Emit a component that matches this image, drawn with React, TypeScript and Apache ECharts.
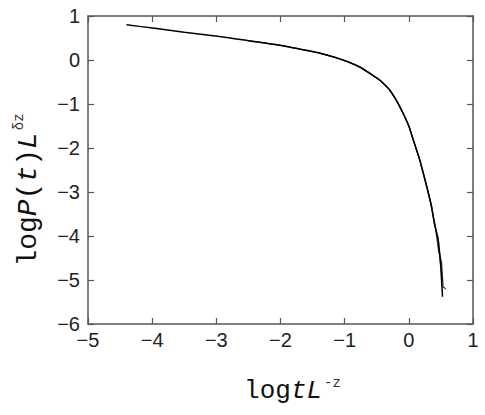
import React, { useEffect, useRef } from "react";
import * as echarts from "echarts";

// Curve data: [log t L^-z, log P(t) L^δz]
const curveA: [number, number][] = [
  [-4.4, 0.8], [-3.96, 0.72], [-3.5, 0.63], [-2.92, 0.53], [-2.5, 0.44],
  [-1.99, 0.33], [-1.6, 0.22], [-1.37, 0.15], [-1.15, 0.06], [-0.95, -0.04],
  [-0.75, -0.17], [-0.59, -0.32], [-0.45, -0.46], [-0.31, -0.66], [-0.2, -0.9],
  [-0.09, -1.21], [0.0, -1.5], [0.07, -1.82], [0.17, -2.27], [0.28, -2.88],
  [0.35, -3.3], [0.39, -3.64], [0.456, -4.09], [0.494, -4.61], [0.51, -5.0],
  [0.525, -5.38],
];
const curveB: [number, number][] = [
  [-2.5, 0.44], [-1.99, 0.33], [-1.6, 0.22], [-1.37, 0.15], [-1.15, 0.06],
  [-0.95, -0.04], [-0.75, -0.17], [-0.59, -0.32], [-0.45, -0.46], [-0.31, -0.66],
  [-0.2, -0.9], [-0.09, -1.21], [0.0, -1.5], [0.07, -1.82], [0.17, -2.27],
  [0.28, -2.88], [0.35, -3.3], [0.42, -3.86], [0.47, -4.38], [0.45, -4.2],
  [0.51, -4.61], [0.534, -5.16], [0.576, -5.2],
];
const curveC: [number, number][] = [
  [-1.37, 0.15], [-1.15, 0.06], [-0.95, -0.04], [-0.75, -0.17], [-0.59, -0.32],
  [-0.45, -0.46], [-0.31, -0.66], [-0.2, -0.9], [-0.09, -1.21], [0.0, -1.5],
  [0.07, -1.82], [0.17, -2.27], [0.28, -2.88], [0.36, -3.4], [0.41, -3.8],
  [0.39, -3.7], [0.46, -4.05], [0.48, -4.5], [0.47, -4.35], [0.52, -5.0],
];
const xTicks = [-5, -4, -3, -2, -1, 0, 1];
const yTicks = [-6, -5, -4, -3, -2, -1, 0, 1];

const mono = "'Liberation Mono', 'DejaVu Sans Mono', monospace";
const sans = "'Liberation Sans', Arial, sans-serif";
const fmt = (v: number) => (v < 0 ? "\u2212" + Math.abs(v) : String(v));

export default function App() {
  const ref = useRef<HTMLDivElement>(null);
  useEffect(() => {
    if (!ref.current) return;
    const chart = echarts.init(ref.current, null, { renderer: "svg" });
    const axisLine = { show: true, onZero: false, lineStyle: { color: "#555", width: 1.5 } };
    const axisTick = { show: true, inside: true, length: 6, lineStyle: { color: "#555", width: 1.2 } };
    const mkRich = (size: number) => ({
      n: { fontFamily: mono, fontSize: size, color: "#111", lineHeight: size + 4 },
      i: { fontFamily: mono, fontSize: size, fontStyle: "italic", color: "#111", lineHeight: size + 4 },
      s: { fontFamily: mono, fontSize: 14, color: "#333", verticalAlign: "top", lineHeight: size + 4, padding: [0, 0, 14, 2] },
    });
    chart.setOption({
      animation: false,
      grid: { left: 88, top: 16, right: 12, bottom: 91, containLabel: false },
      xAxis: [
        {
          type: "value", min: -5, max: 1, interval: 1,
          axisLine, axisTick, splitLine: { show: false },
          axisLabel: { formatter: fmt, fontFamily: sans, fontSize: 20, color: "#222", margin: 6, showMinLabel: true, showMaxLabel: true },
          name: "{n|log}{i|tL}{s|-z}",
          nameLocation: "middle", nameGap: 52,
          nameTextStyle: { rich: mkRich(26), padding: [0, 0, 0, 24] },
        },
        {
          type: "value", position: "top", min: -5, max: 1, interval: 1,
          axisLine, axisTick, splitLine: { show: false }, axisLabel: { show: false },
        },
      ],
      yAxis: [
        {
          type: "value", min: -6, max: 1, interval: 1,
          axisLine, axisTick, splitLine: { show: false },
          axisLabel: { formatter: fmt, fontFamily: sans, fontSize: 20, color: "#222", margin: 8, showMinLabel: true, showMaxLabel: true },
          name: "{n|log}{i|P}{n|(}{i|t}{n|)}{i|L}{s|δz}",
          nameLocation: "middle", nameGap: 44, nameRotate: 90,
          nameTextStyle: { rich: mkRich(28), padding: [0, 40, 0, 0] },
        },
        {
          type: "value", position: "right", min: -6, max: 1, interval: 1,
          axisLine, axisTick, splitLine: { show: false }, axisLabel: { show: false },
        },
      ],
      series: [
        { type: "line", data: curveC, showSymbol: false, lineStyle: { color: "#555", width: 1.1 }, z: 2 },
        { type: "line", data: curveB, showSymbol: false, lineStyle: { color: "#333", width: 1.3 }, z: 3 },
        { type: "line", data: curveA, showSymbol: false, smooth: 0.2, lineStyle: { color: "#000", width: 1.5 }, z: 4 },
      ],
    });
    return () => chart.dispose();
  }, []);
  return <div ref={ref} style={{ position: "fixed", left: 0, top: 0, width: 485, height: 415, background: "#fff" }} />;
}
